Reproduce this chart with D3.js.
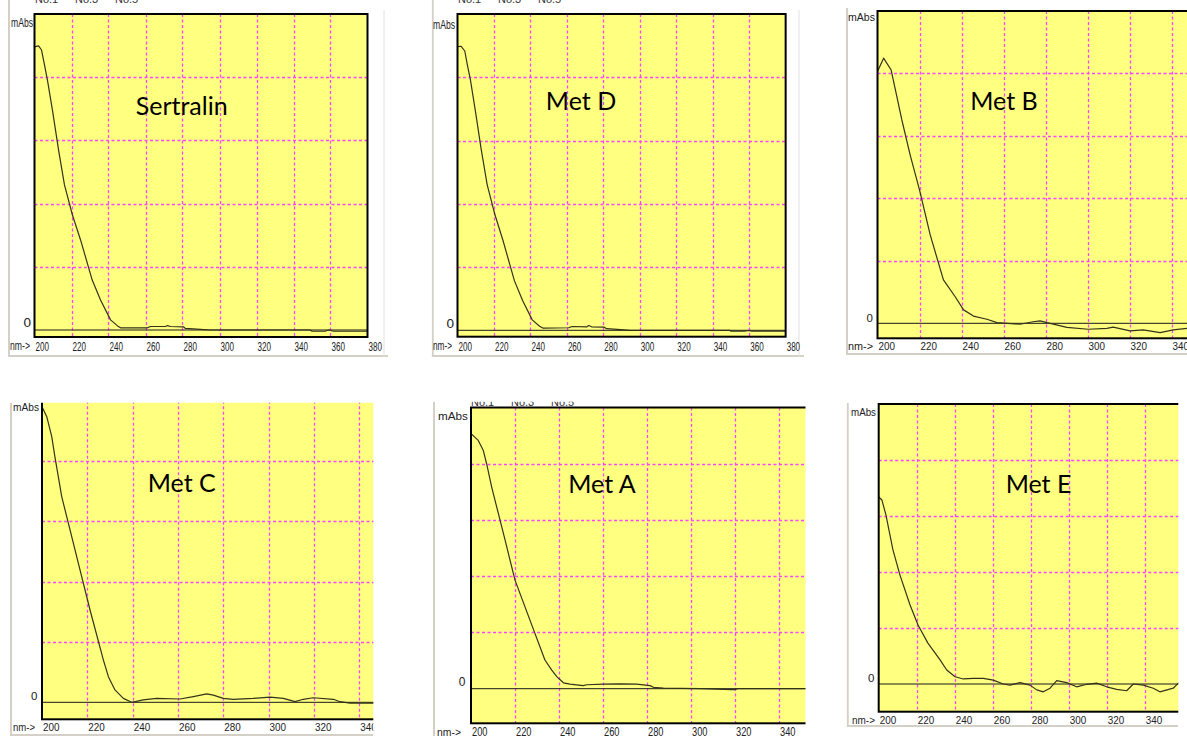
<!DOCTYPE html>
<html><head><meta charset="utf-8">
<script src="https://cdn.jsdelivr.net/npm/d3@7"></script>
<style>body{margin:0;background:#fff} svg{display:block}</style>
</head><body><svg id="c" width="1187" height="736"></svg>
<script>
// ---------- data ----------
const xTickValues = [200,220,240,260,280,300,320,340,360,380];
const yGridValues = [0,20,40,60,80,100];
const yMaxValue = 100;
const titles = ["Sertralin","Met D","Met B","Met C","Met A","Met E"];
const headerLabels = ["No.1","No.3","No.5"];

const sertralinNm  = [200,202.2,203.8,205.4,207,209.7,213,216.2,220.5,224.9,231.2,235.7,241.1,244.9,246.5,261.1,262.7,270.8,271.9,273.5,280.5,281.6,289.7,295,349,350,357,359,361.6,380];
const sertralinAbs = [89.6,89.9,88.6,83.9,79.1,69.6,57.0,45.9,36.4,28.5,15.8,9.5,3.2,1.3,0.7,0.7,1.1,1.1,1.4,1.1,1.0,0.5,0.2,0,0,-0.4,-0.4,0,-0.4,-0.4];

const metDNm  = [200,202,204,205.5,207,209.8,213,216.3,220.5,225,231.2,235.7,241,245,246.8,261,262.8,271,272,273.6,280.5,281.8,289.5,295,349.5,350,357.5,359.5,361.5,380];
const metDAbs = [89.7,89.8,88.3,83.6,79.5,69.4,57.2,46.0,36.6,28.3,15.7,9.4,3.3,1.3,0.7,0.8,1.2,1.1,1.5,1.1,1.0,0.5,0.2,0,0,-0.3,-0.3,0,-0.3,-0.3];

const metBNm  = [200,202.9,206.5,211.6,215.6,220,225.1,231.4,237,241,245.7,252.1,256.9,262,267.9,274.1,277.4,280.7,290.2,300.3,309.2,312.2,320.3,326.5,334.6,340.8,348];
const metBAbs = [80.6,84.9,81.1,65.1,53.8,42.7,28.3,13.9,8.5,4.3,2.3,1.3,0.2,0,-0.3,0.5,0.8,0.2,-1.3,-1.9,-1.6,-1.2,-2.4,-2.1,-3.0,-2.1,-1.6];

const metCNm  = [200,202.1,204.3,205.7,207.2,208.7,212.4,216.8,221.2,227.1,229.3,232.2,235.9,239.6,244.7,250.6,260.9,266.8,272.7,275.6,280,284.4,293.2,300.6,306.5,311.7,315.3,319.7,328.6,331.5,335.9,350];
const metCAbs = [98.0,94.7,88.1,81.4,74.8,68.2,57.1,43.8,30.6,14.0,8.5,4.1,1.3,0,0.8,1.3,1.1,1.9,2.8,2.4,1.3,1.0,1.3,1.7,1.3,0.2,1.0,1.5,1.0,0.2,-0.3,-0.3];

const metANm  = [200,203.3,205.6,207.1,209.4,211.7,215.5,220,226.8,233.6,236.7,239,242,245,251,252.6,260.1,267.7,275.3,281.4,282.9,287.4,304,318.6,320,321.4,352];
const metAAbs = [90.7,88.3,84.7,80.0,71.7,64.6,52.8,38.6,24.4,10.2,6.6,4.3,2.1,1.6,1.1,1.4,1.6,1.7,1.6,1.1,0.5,0.2,0,-0.3,-0.3,0,0];

const metENm  = [200,201.7,203.8,207.5,211.2,216.5,220.7,225.9,232.3,235.8,240.2,244.5,249.8,255.1,260.3,265.6,269.1,274.4,279.6,283.2,286.6,290.2,293.7,298.9,304.2,309.5,314.7,320,325.3,330.5,334,339.3,344.5,348,355,358];
const metEAbs = [66.8,65.7,60.4,47.9,38.9,28.2,21.1,14.6,8.6,5.0,2.6,1.8,2.0,2.0,1.4,0,-0.4,0.5,-0.4,-2.1,-2.8,-1.5,1.2,0.5,-1.0,-0.1,0.3,-1.0,-1.9,-2.4,0,-0.4,-1.5,-2.8,-1.5,0.5];

const series = [
  [sertralinNm, sertralinAbs], [metDNm, metDAbs], [metBNm, metBAbs],
  [metCNm, metCAbs], [metANm, metAAbs], [metENm, metEAbs]
];

// ---------- layout (screen geometry only) ----------
const layouts = [
  {crop:[8,0,388,357], left:34.5, top:14, zero:330, bottom:337, ppn:1.85,
   title:[181.7,115], mAbs:[33,23], zeroLbl:[31,322], axisY:346, nm:[10,346], header:[35,3], frameRight:384, frameBottom:true,
   fs:13.5, digitW:13.5, nmW:20, mAbsW:22},
  {crop:[431.7,0,804,357], left:457.5, top:14, zero:330.3, bottom:336.7, ppn:1.823,
   title:[581,110], mAbs:[455,25], zeroLbl:[454,323], axisY:346, nm:[433,346], header:[458,3], frameRight:799, frameBottom:true,
   fs:13.5, digitW:13.5, nmW:19, mAbsW:22},
  {crop:[846,8,1187,355], left:877.5, top:11, zero:323.3, bottom:338.3, ppn:2.1,
   title:[1004,110], mAbs:[875,17], zeroLbl:[873,318], axisY:346, nm:[848,346], frameBottom:true,
   fs:11.5, digitW:16.5, nmW:25, mAbsW:27},
  {crop:[10,402.7,373.3,736], left:42, top:400.7, zero:702.3, bottom:719.3, ppn:2.266,
   title:[181.7,491.7], mAbs:[39,407.5], zeroLbl:[37.5,696], axisY:727, nm:[13,727], frameBottom:true,
   fs:11.5, digitW:16.5, nmW:22, mAbsW:26},
  {crop:[433,401.7,805.5,740], left:471, top:407.5, zero:688.7, bottom:723.3, ppn:2.2,
   title:[602,493], mAbs:[468,416], zeroLbl:[465.5,682], axisY:732, nm:[437,732], header:[471,405.5],
   fs:12, digitW:15.5, nmW:24, mAbsW:30},
  {crop:[846.7,402.7,1178.3,727], left:878.7, top:404, zero:684, bottom:711.7, ppn:1.9,
   title:[1038.5,493], mAbs:[876,412], zeroLbl:[874.5,678], axisY:720, nm:[852,720], frameBottom:true,
   fs:11.5, digitW:16.5, nmW:23, mAbsW:25}
];

const svg = d3.select("#c");
const defs = svg.append("defs");
const smallFont = "'Liberation Sans','DejaVu Sans',Arial,sans-serif";

// draw a text squeezed horizontally to a target width (left-anchored at x)
function squeezedText(parent, str, x, y, size, width) {
  const t = parent.append("text").attr("x", 0).attr("y", 0).attr("dy", "0.35em").text(str)
    .attr("font-family", smallFont).attr("font-size", size).attr("fill", "#222");
  const natural = t.node().getComputedTextLength() || width;
  const sx = width / natural;
  t.attr("transform", `translate(${x},${y}) scale(${sx},1)`);
  return t;
}

layouts.forEach((L, i) => {
  const [cx0, cy0, cx1, cy1] = L.crop;
  const clipId = "clip" + i;
  defs.append("clipPath").attr("id", clipId)
    .append("rect").attr("x", cx0).attr("y", cy0).attr("width", cx1 - cx0).attr("height", cy1 - cy0);
  const g = svg.append("g").attr("clip-path", `url(#${clipId})`);

  // window background + frame
  g.append("rect").attr("x", cx0).attr("y", cy0).attr("width", cx1 - cx0).attr("height", cy1 - cy0).attr("fill", "#ffffff");
  g.append("line").attr("x1", cx0 + 1).attr("x2", cx0 + 1).attr("y1", cy0).attr("y2", cy1)
    .attr("stroke", "#d4d0c8").attr("stroke-width", 2);
  if (L.frameBottom) g.append("line").attr("x1", cx0).attr("x2", cx1).attr("y1", cy1 - 1).attr("y2", cy1 - 1)
    .attr("stroke", "#d4d0c8").attr("stroke-width", 2);
  if (L.frameRight) g.append("line").attr("x1", L.frameRight).attr("x2", L.frameRight).attr("y1", cy0 + 10).attr("y2", cy1)
    .attr("stroke", "#e4e2de").attr("stroke-width", 1);

  const x = d3.scaleLinear().domain([200, 380]).range([L.left, L.left + 180 * L.ppn]);
  const yMin = (L.zero - L.bottom) / (L.zero - L.top) * yMaxValue;
  const y = d3.scaleLinear().domain([yMin, yMaxValue]).range([L.bottom, L.top]);

  // plot background
  g.append("rect").attr("x", x(200)).attr("y", y(yMaxValue))
    .attr("width", x(380) - x(200)).attr("height", y(yMin) - y(yMaxValue)).attr("fill", "#ffff80");

  // grid
  const vGrid = xTickValues.filter(v => v > 200 && v < 380);
  g.selectAll(null).data(vGrid).enter().append("line")
    .attr("x1", d => Math.round(x(d)) + 0.5).attr("x2", d => Math.round(x(d)) + 0.5)
    .attr("y1", y(yMaxValue)).attr("y2", y(yMin))
    .attr("stroke", "#ff44ff").attr("stroke-width", 1.3).attr("stroke-dasharray", "3,2.5");
  g.selectAll(null).data(yGridValues.filter(v => v > 0 && v < yMaxValue)).enter().append("line")
    .attr("x1", x(200)).attr("x2", x(380))
    .attr("y1", d => Math.round(y(d)) + 0.5).attr("y2", d => Math.round(y(d)) + 0.5)
    .attr("stroke", "#ff44ff").attr("stroke-width", 1.3).attr("stroke-dasharray", "3,2.5");

  // zero line
  g.append("line").attr("x1", x(200)).attr("x2", x(380)).attr("y1", y(0)).attr("y2", y(0))
    .attr("stroke", "#1a1a1a").attr("stroke-width", 1);

  // spectrum
  const [nm, abs] = series[i];
  const pts = nm.map((v, k) => [v, abs[k]]);
  const line = d3.line().x(d => x(d[0])).y(d => y(d[1]));
  g.append("path").datum(pts).attr("d", line).attr("fill", "none")
    .attr("stroke", "#33331a").attr("stroke-width", 1.2).attr("stroke-linejoin", "round");

  // plot border
  g.append("rect").attr("x", x(200)).attr("y", y(yMaxValue))
    .attr("width", x(380) - x(200)).attr("height", y(yMin) - y(yMaxValue))
    .attr("fill", "none").attr("stroke", "#000").attr("stroke-width", 2);

  // x axis labels (tick values through the scale, squeezed like the condensed instrument font)
  const axisG = g.append("g");
  xTickValues.forEach(v => squeezedText(axisG, d3.format("d")(v), x(v) + 1, L.axisY, L.fs, L.digitW));

  // small labels
  squeezedText(g, "nm->", L.nm[0], L.nm[1], L.fs - 1, L.nmW);
  squeezedText(g, "mAbs", L.mAbs[0] - L.mAbsW, L.mAbs[1], L.fs - 1.5, L.mAbsW);
  g.append("text").attr("x", L.zeroLbl[0]).attr("y", L.zeroLbl[1]).attr("dy", "0.35em").attr("text-anchor", "end").text("0")
    .attr("font-family", smallFont).attr("font-size", L.fs).attr("fill", "#222");

  if (L.header) {
    g.selectAll(null).data(headerLabels).enter().append("text")
      .attr("x", (d, k) => L.header[0] + k * 40).attr("y", L.header[1]).text(d => d)
      .attr("font-family", smallFont).attr("font-size", 11).attr("fill", "#333");
  }

  // title
  g.append("text").attr("x", L.title[0]).attr("y", L.title[1]).attr("text-anchor", "middle")
    .text(titles[i]).attr("font-family", "Lato, 'Open Sans', sans-serif").attr("font-size", 25).attr("fill", "#000");
});
</script></body></html>
